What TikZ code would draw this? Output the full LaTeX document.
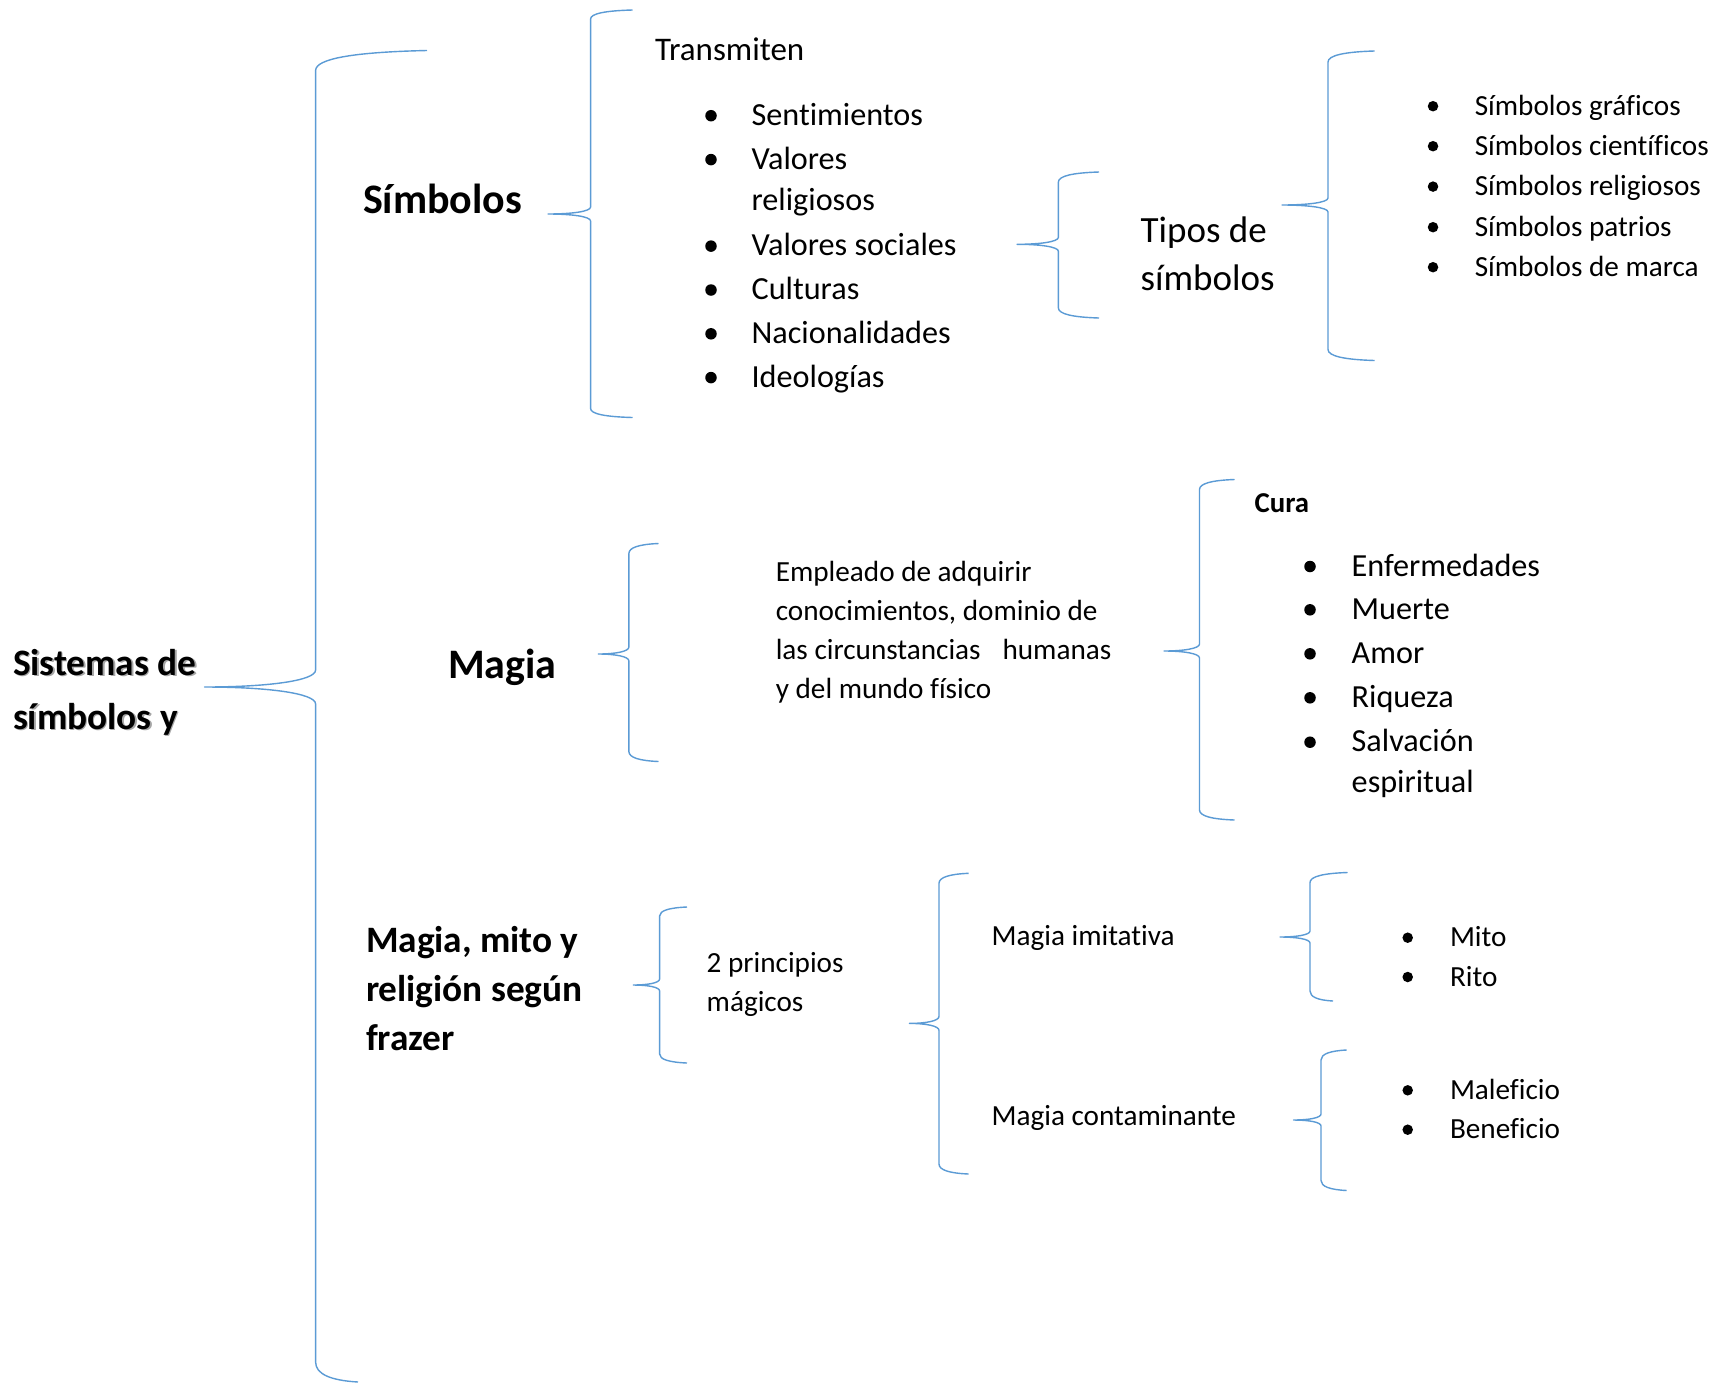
\documentclass[tikz,border=0pt]{standalone}
\usepackage{fontspec}
\setmainfont{Carlito}[Ligatures=NoCommon]
\definecolor{brblue}{RGB}{91,155,213}
% #1 vertical x, #2/#3 top end, #4/#5 bottom end, #6/#7 tip, #8 end radius, #9 tip radius
\newcommand\mybrace[9]{%
  \draw[bracestyle] (#2,#3) .. controls ({#1+0.35*(#2-#1)},{#3+0.08*#8}) and (#1,{#3+0.4*#8}) .. (#1,{#3+#8})
    -- (#1,{#7-#9}) .. controls (#1,{#7-0.35*#9}) and ({#1-0.45*(#1-#6)},#7) .. (#6,#7)
    .. controls ({#1-0.45*(#1-#6)},#7) and (#1,{#7+0.35*#9}) .. (#1,{#7+#9})
    -- (#1,{#5-#8}) .. controls (#1,{#5-0.4*#8}) and ({#1+0.35*(#4-#1)},{#5-0.08*#8}) .. (#4,#5);}
\tikzset{
  bracestyle/.style={draw=brblue, line width=1.4pt, line join=round},
  txt/.style={inner sep=0pt, outer sep=0pt, anchor=base west},
  fbig/.style={txt, font=\fontsize{42}{50}\selectfont\bfseries},
  fhead/.style={txt, font=\fontsize{37.3}{44}\selectfont\bfseries},
  flist/.style={txt, font=\fontsize{32.2}{38}\selectfont},
  ftrans/.style={txt, font=\fontsize{33}{40}\selectfont},
  ftipo/.style={txt, font=\fontsize{37}{44}\selectfont},
  fsmall/.style={txt, font=\fontsize{29.2}{35}\selectfont},
  fsmallb/.style={txt, font=\fontsize{28.8}{34}\selectfont\bfseries},
  bulbig/.style={circle, fill=black, inner sep=0pt, minimum size=11.5pt},
  bulsmall/.style={circle, fill=black, inner sep=0pt, minimum size=10.5pt},
}
\begin{document}
\begin{tikzpicture}[x=1pt,y=-1pt]
\useasboundingbox (0,0) rectangle (1718,1382);
\fill[white] (0,0) rectangle (1718,1382);
\clip (0,0) rectangle (1718,1382);

% braces
\mybrace{315.6}{427}{50.5}{358}{1382}{204.5}{687}{20}{17}
\mybrace{590.6}{632.5}{10}{632.5}{417.5}{548}{214}{9}{7}
\mybrace{1058.4}{1099}{172}{1099}{318}{1017}{244.3}{10}{7}
\mybrace{1328}{1374.5}{51}{1374.5}{360.5}{1282}{205}{11}{7}
\mybrace{628.9}{658.5}{543.5}{658.5}{761.5}{598.3}{654}{10}{7}
\mybrace{1199.5}{1234.5}{479.5}{1234.5}{820}{1164}{651}{10}{7}
\mybrace{659.6}{687}{907}{687}{1063}{633.3}{985}{9}{6}
\mybrace{939}{968.6}{873.3}{968.6}{1174}{909.4}{1023.4}{10}{7}
\mybrace{1310}{1347.5}{872.5}{1333}{1001}{1280}{937}{10}{6}
\mybrace{1321}{1346.7}{1050}{1346.7}{1190.5}{1293.5}{1120}{10}{6}

% root
\node[fhead, text=black!35] (sis1s) at (14.5,676.5) {Sistemas de};
\node[fhead, text=black!35] (sis2s) at (14.5,730.5) {símbolos y};
\node[fhead] (sis1) at (13,675) {Sistemas de};
\node[fhead] (sis2) at (13,729) {símbolos y};

% level 1
\node[fbig] (simb) at (363,213) {Símbolos};
\node[fbig] (magia) at (448,678) {Magia};
\node[fhead] (mmr1) at (366,952) {Magia, mito y};
\node[fhead] (mmr2) at (366,1001) {religión según};
\node[fhead] (mmr3) at (366,1050) {frazer};

% Símbolos branch
\node[ftrans] (trans) at (655,60.6) {Transmiten};
\node[flist] (s1) at (751.6,125.2) {Sentimientos};
\node[flist] (s2) at (751.6,169.1) {Valores};
\node[flist] (s2b) at (751.6,210.7) {religiosos};
\node[flist] (s3) at (751.6,255.6) {Valores sociales};
\node[flist] (s4) at (751.6,299.5) {Culturas};
\node[flist] (s5) at (751.6,343.3) {Nacionalidades};
\node[flist] (s6) at (751.6,387.1) {Ideologías};
\foreach \yy/\nn in {125.2/1,169.1/2,255.6/3,299.5/4,343.3/5,387.1/6}
  \node[bulbig] (sb\nn) at (711,\yy-9.5) {};

\node[ftipo] (tipo1) at (1140.6,242) {Tipos de};
\node[ftipo] (tipo2) at (1140.6,290) {símbolos};
\node[fsmall] (t1) at (1474.8,115) {Símbolos gráficos};
\node[fsmall] (t2) at (1474.8,155) {Símbolos científicos};
\node[fsmall] (t3) at (1474.8,195.4) {Símbolos religiosos};
\node[fsmall] (t4) at (1474.8,236) {Símbolos patrios};
\node[fsmall] (t5) at (1474.8,276) {Símbolos de marca};
\foreach \yy/\nn in {115/1,155/2,195.4/3,236/4,276/5}
  \node[bulsmall] (tb\nn) at (1433,\yy-8.8) {};

% Magia branch
\node[fsmall] (e1) at (775.8,581.6) {Empleado de adquirir};
\node[fsmall] (e2) at (775.8,620.7) {conocimientos, dominio de};
\node[fsmall] (e3) at (775.8,659.6) {las circunstancias\hspace{22pt}humanas};
\node[fsmall] (e4) at (775.8,698.9) {y del mundo físico};

\node[fsmallb] (cura) at (1254.6,512) {Cura};
\node[flist] (c1) at (1351.7,576) {Enfermedades};
\node[flist] (c2) at (1351.7,619.3) {Muerte};
\node[flist] (c3) at (1351.7,663.3) {Amor};
\node[flist] (c4) at (1351.7,707.3) {Riqueza};
\node[flist] (c5) at (1351.7,751.7) {Salvación};
\node[flist] (c5b) at (1351.7,792.7) {espiritual};
\foreach \yy/\nn in {576/1,619.3/2,663.3/3,707.3/4,751.7/5}
  \node[bulbig] (cb\nn) at (1310,\yy-9.5) {};

% Frazer branch
\node[fsmall] (p1) at (706.7,972.4) {2 principios};
\node[fsmall] (p2) at (706.7,1011.9) {mágicos};
\node[fsmall] (mi) at (991.6,945.8) {Magia imitativa};
\node[fsmall] (mc) at (991.6,1125.5) {Magia contaminante};
\node[fsmall] (m1) at (1450,946.7) {Mito};
\node[fsmall] (m2) at (1450,986) {Rito};
\node[fsmall] (m3) at (1450,1099.3) {Maleficio};
\node[fsmall] (m4) at (1450,1138.7) {Beneficio};
\foreach \yy/\nn in {946.7/1,986/2,1099.3/3,1138.7/4}
  \node[bulsmall] (mb\nn) at (1407.7,\yy-9) {};
\end{tikzpicture}
\end{document}
